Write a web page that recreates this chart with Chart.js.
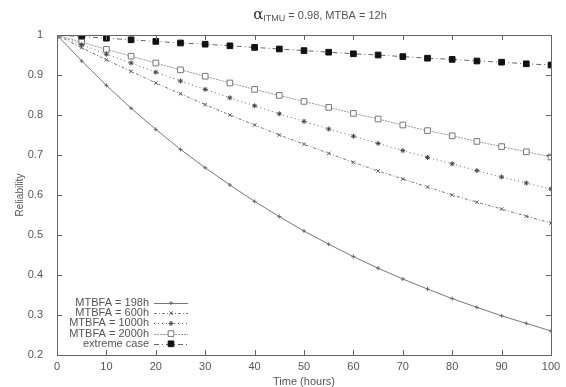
<!DOCTYPE html>
<html>
<head>
<meta charset="utf-8">
<script src="https://cdn.jsdelivr.net/npm/chart.js@4/dist/chart.umd.min.js"></script>
<style>
  html, body { margin: 0; padding: 0; background: #fff; }
  #wrap { width: 566px; height: 387px; }
</style>
</head>
<body>
<div id="wrap"><canvas id="myChart" width="566" height="387"></canvas></div>
<script>
// values
const hours = [0, 5, 10, 15, 20, 25, 30, 35, 40, 45, 50, 55, 60, 65, 70, 75, 80, 85, 90, 95, 100];
const mtbfa198 = [1, 0.935, 0.874, 0.817, 0.764, 0.714, 0.668, 0.625, 0.584, 0.546, 0.51, 0.477, 0.446, 0.417, 0.39, 0.365, 0.341, 0.319, 0.298, 0.279, 0.26];
const mtbfa600 = [1, 0.968, 0.938, 0.909, 0.88, 0.853, 0.826, 0.80, 0.775, 0.75, 0.727, 0.704, 0.682, 0.66, 0.64, 0.62, 0.60, 0.582, 0.565, 0.547, 0.53];
const mtbfa1000 = [1, 0.976, 0.952, 0.93, 0.907, 0.885, 0.864, 0.843, 0.823, 0.803, 0.784, 0.765, 0.747, 0.729, 0.711, 0.694, 0.678, 0.661, 0.645, 0.63, 0.615];
const mtbfa2000 = [1, 0.982, 0.964, 0.947, 0.93, 0.913, 0.897, 0.88, 0.864, 0.849, 0.834, 0.819, 0.804, 0.79, 0.775, 0.761, 0.748, 0.734, 0.721, 0.708, 0.695];
const extremeCase = [1, 0.996, 0.992, 0.988, 0.984, 0.98, 0.977, 0.973, 0.969, 0.965, 0.961, 0.957, 0.953, 0.95, 0.946, 0.942, 0.939, 0.935, 0.932, 0.928, 0.925];
const seriesLabels = ['MTBFA = 198h', 'MTBFA = 600h', 'MTBFA = 1000h', 'MTBFA = 2000h', 'extreme case'];
const xTickValues = [0, 10, 20, 30, 40, 50, 60, 70, 80, 90, 100];
const yTickValues = [0.2, 0.3, 0.4, 0.5, 0.6, 0.7, 0.8, 0.9, 1];

const textGrey = '#555';
const fontFam = '"Liberation Sans", Arial, sans-serif';

function pts(vals) {
    return hours.map((h, i) => ({ x: h, y: vals[i] }));
}

// box around the plot plus inward ticks on all four sides (gnuplot look)
const boxPlugin = {
    id: 'box',
    afterDraw(chart) {
        const { ctx, chartArea: a, scales: { x, y } } = chart;
        ctx.save();
        ctx.strokeStyle = '#666';
        ctx.lineWidth = 1;
        ctx.strokeRect(Math.round(a.left) + 0.5, Math.round(a.top) + 0.5,
            Math.round(a.right - a.left), Math.round(a.bottom - a.top));
        ctx.beginPath();
        xTickValues.forEach(v => {
            const px = Math.round(x.getPixelForValue(v)) + 0.5;
            ctx.moveTo(px, a.bottom); ctx.lineTo(px, a.bottom - 5);
            ctx.moveTo(px, a.top); ctx.lineTo(px, a.top + 5);
        });
        yTickValues.forEach(v => {
            const py = Math.round(y.getPixelForValue(v)) + 0.5;
            ctx.moveTo(a.left, py); ctx.lineTo(a.left + 5, py);
            ctx.moveTo(a.right, py); ctx.lineTo(a.right - 5, py);
        });
        ctx.stroke();
        ctx.restore();
    }
};

// title with the alpha and its subscript
const titlePlugin = {
    id: 'mytitle',
    afterDraw(chart) {
        const ctx = chart.ctx;
        ctx.save();
        ctx.textBaseline = 'alphabetic';
        const base = 19;
        const parts = [
            { t: 'α', font: '15px "DejaVu Serif", serif', dy: 0, color: '#333' },
            { t: 'ITMU', font: '9px ' + fontFam, dy: 2, color: textGrey },
            { t: ' = 0.98, MTBA = 12h', font: '11px ' + fontFam, dy: 0, color: textGrey }
        ];
        let total = 0;
        parts.forEach(p => { ctx.font = p.font; p.w = ctx.measureText(p.t).width; total += p.w; });
        let xx = 320 - total / 2;
        parts.forEach(p => {
            ctx.font = p.font;
            ctx.fillStyle = p.color;
            ctx.fillText(p.t, xx, base + p.dy);
            xx += p.w;
        });
        ctx.restore();
    }
};

// legend in the lower left corner: text right aligned, sample to the right
const legendPlugin = {
    id: 'mylegend',
    afterDraw(chart) {
        const ctx = chart.ctx;
        ctx.save();
        ctx.font = '11px ' + fontFam;
        ctx.textAlign = 'right';
        ctx.textBaseline = 'middle';
        chart.data.datasets.forEach((ds, i) => {
            const yy = 303 + i * 10.2;
            ctx.fillStyle = textGrey;
            ctx.fillText(ds.label, 149, yy);
            ctx.beginPath();
            ctx.strokeStyle = ds.borderColor;
            ctx.lineWidth = 1;
            ctx.setLineDash(ds.borderDash || []);
            ctx.moveTo(154, Math.round(yy) + 0.5);
            ctx.lineTo(188, Math.round(yy) + 0.5);
            ctx.stroke();
            ctx.setLineDash([]);
            ctx.fillStyle = ds.pointBackgroundColor;
            ctx.strokeStyle = ds.pointBorderColor;
            ctx.lineWidth = 1;
            Chart.helpers.drawPoint(ctx, {
                pointStyle: ds.pointStyle,
                radius: ds.pointRadius,
                borderWidth: 1,
                rotation: 0
            }, 171, yy);
        });
        ctx.restore();
    }
};

const ctx = document.getElementById('myChart').getContext('2d');
const myChart = new Chart(ctx, {
    type: 'line',
    data: {
        datasets: [{
            label: seriesLabels[0],
            data: pts(mtbfa198),
            borderColor: '#777',
            borderWidth: 1,
            pointStyle: 'cross',
            pointRadius: 2,
            pointBorderColor: '#666',
            pointBackgroundColor: '#666'
        }, {
            label: seriesLabels[1],
            data: pts(mtbfa600),
            borderColor: '#777',
            borderWidth: 1,
            borderDash: [3, 2, 1, 2],
            pointStyle: 'crossRot',
            pointRadius: 2.5,
            pointBorderColor: '#555',
            pointBackgroundColor: '#555'
        }, {
            label: seriesLabels[2],
            data: pts(mtbfa1000),
            borderColor: '#666',
            borderWidth: 1,
            borderDash: [1, 3],
            pointStyle: 'star',
            pointRadius: 2.5,
            pointBorderColor: '#444',
            pointBackgroundColor: '#444'
        }, {
            label: seriesLabels[3],
            data: pts(mtbfa2000),
            borderColor: '#999',
            borderWidth: 1,
            borderDash: [2, 1],
            pointStyle: 'rect',
            pointRadius: 4,
            pointBorderColor: '#777',
            pointBackgroundColor: '#fff'
        }, {
            label: seriesLabels[4],
            data: pts(extremeCase),
            borderColor: '#666',
            borderWidth: 1,
            borderDash: [5, 3, 1, 3],
            pointStyle: 'rect',
            pointRadius: 4,
            pointBorderColor: '#111',
            pointBackgroundColor: '#111'
        }]
    },
    options: {
        responsive: false,
        animation: false,
        layout: { padding: { top: 35, right: 15, left: 0, bottom: 0 } },
        plugins: {
            legend: { display: false },
            tooltip: { enabled: false }
        },
        elements: { line: { tension: 0 } },
        scales: {
            x: {
                type: 'linear',
                min: 0,
                max: 100,
                afterBuildTicks: s => { s.ticks = xTickValues.map(v => ({ value: v })); },
                afterFit: s => { s.height = 32; },
                grid: { display: false },
                border: { display: false },
                ticks: { color: textGrey, font: { family: fontFam, size: 11 }, padding: -3, maxRotation: 0 },
                title: {
                    display: true,
                    text: 'Time (hours)',
                    color: textGrey,
                    font: { family: fontFam, size: 11, lineHeight: 1 },
                    padding: { top: 0, bottom: 0 }
                }
            },
            y: {
                min: 0.2,
                max: 1,
                afterBuildTicks: s => { s.ticks = yTickValues.map(v => ({ value: v })); },
                afterFit: s => { s.width = 57; },
                grid: { display: false },
                border: { display: false },
                ticks: {
                    color: textGrey,
                    font: { family: fontFam, size: 11 },
                    padding: 6,
                    callback: v => String(v)
                },
                title: {
                    display: true,
                    text: 'Reliability',
                    color: textGrey,
                    font: { family: fontFam, size: 10, lineHeight: 1 },
                    padding: { top: 15, bottom: 0 }
                }
            }
        }
    },
    plugins: [boxPlugin, titlePlugin, legendPlugin]
});
</script>
</body>
</html>
